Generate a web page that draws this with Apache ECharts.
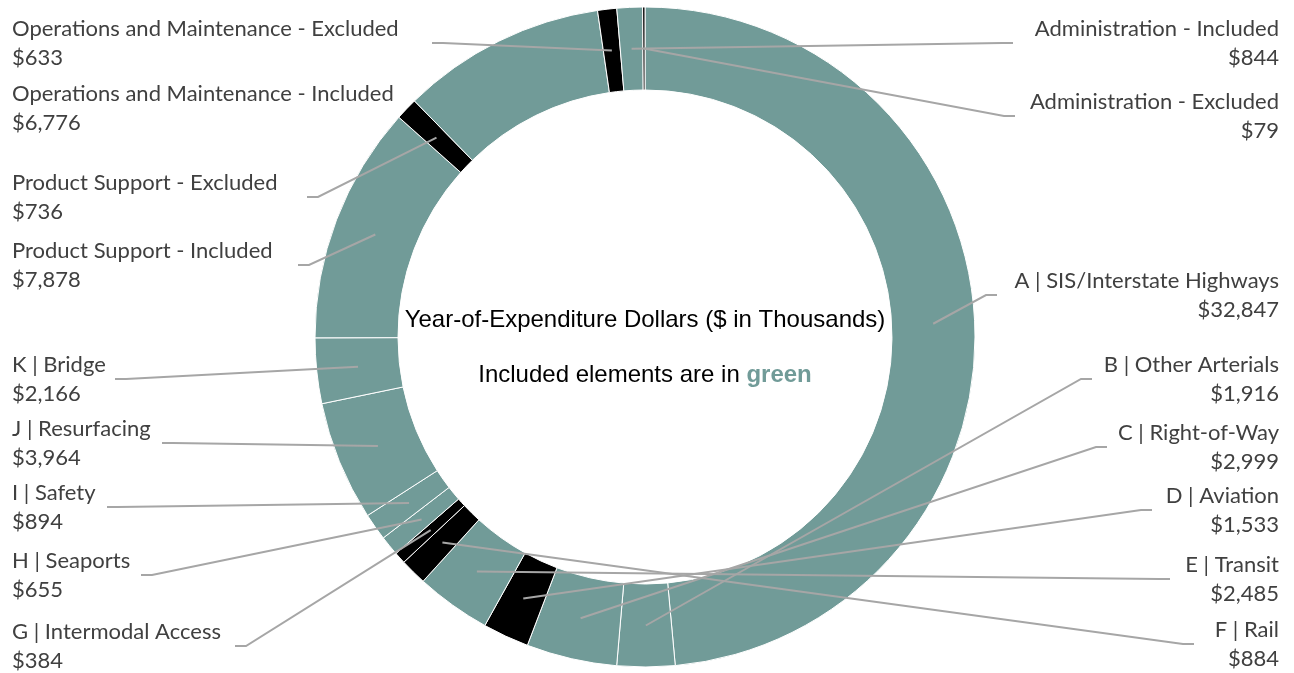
<!DOCTYPE html>
<html>
<head>
<meta charset="utf-8">
<script src="https://cdn.jsdelivr.net/npm/echarts@6/dist/echarts.min.js"></script>
<style>
html,body{margin:0;padding:0;background:#ffffff;}
#chart{width:1294px;height:673px;}
</style>
</head>
<body>
<div id="chart"></div>
<script>
// ---------------- data ----------------
const categories = [
  'A | SIS/Interstate Highways',
  'B | Other Arterials',
  'C | Right-of-Way',
  'D | Aviation',
  'E | Transit',
  'F | Rail',
  'G | Intermodal Access',
  'H | Seaports',
  'I | Safety',
  'J | Resurfacing',
  'K | Bridge',
  'Product Support - Included',
  'Product Support - Excluded',
  'Operations and Maintenance - Included',
  'Operations and Maintenance - Excluded',
  'Administration - Included',
  'Administration - Excluded'
];
const values = [32847, 1916, 2999, 1533, 2485, 884, 384, 655, 894, 3964, 2166, 7878, 736, 6776, 633, 844, 79];
const included = [true, true, true, false, true, false, false, true, true, true, true, true, false, true, false, true, false];
const centerTitle = 'Year-of-Expenditure Dollars ($ in Thousands)';
const centerNote = 'Included elements are in ';
const centerNoteEmph = 'green';

// ---------------- layout / style (not data) ----------------
const GREEN = '#719b98';
const BLACK = '#000000';
const LABEL_FONT = 'Lato';
// label placement: [side, block centre y, leader end x, show leader]
const labelPlacement = [
  ['right', 295, 997, true],
  ['right', 379, 1092, true],
  ['right', 447, 1107, true],
  ['right', 510, 1152, true],
  ['right', 579, 1170, true],
  ['right', 644, 1194, true],
  ['left', 646, 235, true],
  ['left', 575, 141, true],
  ['left', 507, 107, true],
  ['left', 443, 162, true],
  ['left', 379, 115, true],
  ['left', 265, 298, true],
  ['left', 197, 307, true],
  ['left', 108, 0, false],
  ['left', 43, 432, true],
  ['right', 43, 1013, true],
  ['right', 116, 1015, true]
];

const chart = echarts.init(document.getElementById('chart'), null, {renderer: 'canvas'});

const CX = 645, CY = 337, R0 = 247, R1 = 330;

function sliceMidPoint(seriesIdx, idx, fallbackPts) {
  try {
    const lay = chart.getModel().getSeriesByIndex(seriesIdx).getData().getItemLayout(idx);
    const mid = (lay.startAngle + lay.endAngle) / 2;
    const rm = (lay.r + lay.r0) / 2;
    return [lay.cx + rm * Math.cos(mid), lay.cy + rm * Math.sin(mid)];
  } catch (e) {
    if (fallbackPts && fallbackPts[0]) {
      const dx = fallbackPts[0][0] - CX, dy = fallbackPts[0][1] - CY;
      const d = Math.sqrt(dx * dx + dy * dy) || 1;
      const rm = (R0 + R1) / 2;
      return [CX + dx / d * rm, CY + dy / d * rm];
    }
    return [CX, CY];
  }
}

const pieBase = {
  type: 'pie',
  center: [CX, CY],
  radius: [R0, R1],
  startAngle: 90,
  clockwise: true,
  avoidLabelOverlap: false,
  silent: true,
  minAngle: 0
};

const option = {
  animation: false,
  backgroundColor: '#ffffff',
  graphic: [
    {
      type: 'text',
      x: CX, y: 320,
      silent: true,
      style: {
        text: centerTitle,
        fill: '#000000',
        fontSize: 24,
        fontFamily: '"Liberation Sans", Arial, sans-serif',
        align: 'center',
        verticalAlign: 'middle'
      }
    },
    {
      type: 'text',
      x: CX, y: 375,
      silent: true,
      style: {
        text: centerNote + '{g|' + centerNoteEmph + '}',
        fill: '#000000',
        fontSize: 24,
        fontFamily: '"Liberation Sans", Arial, sans-serif',
        align: 'center',
        verticalAlign: 'middle',
        rich: {
          g: {
            fill: GREEN,
            fontWeight: 'bold',
            fontSize: 24,
            fontFamily: '"Liberation Sans", Arial, sans-serif'
          }
        }
      }
    }
  ],
  series: [
    Object.assign({}, pieBase, {
      name: 'ring',
      z: 2,
      itemStyle: {borderColor: '#ffffff', borderWidth: 1},
      label: {show: false},
      labelLine: {show: false},
      data: categories.map(function (name, i) {
        return {
          name: name,
          value: values[i],
          itemStyle: {color: included[i] ? GREEN : BLACK}
        };
      })
    }),
    Object.assign({}, pieBase, {
      name: 'labels',
      z: 5,
      itemStyle: {color: 'rgba(0,0,0,0)', borderWidth: 0},
      label: {
        show: true,
        position: 'outside',
        fontFamily: LABEL_FONT,
        fontSize: 22,
        lineHeight: 29,
        color: '#404040',
        formatter: function (p) {
          return p.name + '\n$' + p.value.toLocaleString('en-US');
        }
      },
      labelLine: {
        show: true,
        length: 10,
        length2: 10,
        lineStyle: {color: '#a6a6a6', width: 2}
      },
      labelLayout: function (p) {
        const pl = labelPlacement[p.dataIndex];
        const side = pl[0], y = pl[1], endX = pl[2];
        const start = sliceMidPoint(p.seriesIndex, p.dataIndex, p.labelLinePoints);
        const bendX = side === 'right' ? endX - 11 : endX + 11;
        const out = {
          x: side === 'right' ? 1279 : 12,
          y: y,
          align: side,
          verticalAlign: 'middle'
        };
        if (pl[3]) {
          out.labelLinePoints = [start, [bendX, y], [endX, y]];
        }
        return out;
      },
      data: categories.map(function (name, i) {
        return {
          name: name,
          value: values[i],
          labelLine: {show: labelPlacement[i][3]}
        };
      })
    })
  ]
};

chart.setOption(option);
</script>
</body>
</html>
